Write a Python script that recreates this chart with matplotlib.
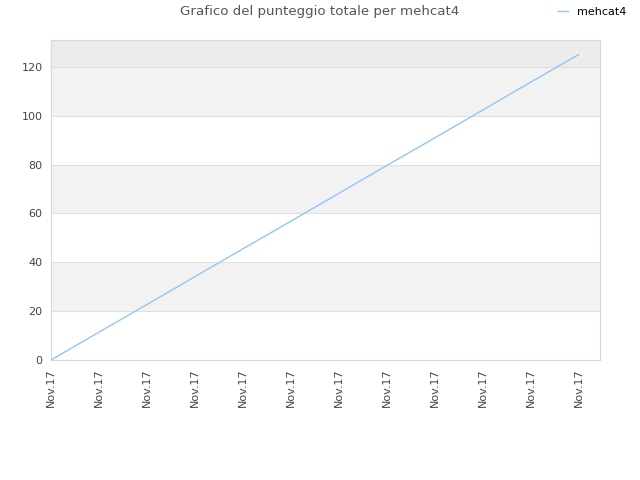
import matplotlib
matplotlib.use("Agg")
import matplotlib.pyplot as plt
import numpy as np

# data
labels = ["Nov.17"] * 12
scores = [0, 11.4, 22.7, 34.1, 45.5, 56.8, 68.2, 79.6, 90.9, 102.3, 113.7, 125]
series_name = "mehcat4"

fig = plt.figure(figsize=(6.4, 4.8), dpi=100)
ax = fig.add_axes([0.0797, 0.25, 0.858, 0.6667])

# alternating horizontal bands
ax.axhspan(20, 40, color="#f2f2f2", zorder=0, lw=0)
ax.axhspan(60, 80, color="#f2f2f2", zorder=0, lw=0)
ax.axhspan(100, 120, color="#f2f2f2", zorder=0, lw=0)
ax.axhspan(120, 140, color="#ececec", zorder=0, lw=0)

x = np.arange(len(scores))
ax.plot(x, scores, color="#92c5f9", linewidth=1.0, label=series_name, zorder=3)

ax.set_xlim(0, 11.45)
ax.set_ylim(0, 131)
ax.set_yticks([0, 20, 40, 60, 80, 100, 120])
ax.set_xticks(x)
ax.set_xticklabels(labels, rotation=90)
ax.yaxis.grid(True, color="#e0e0e0", linewidth=0.8, zorder=1)
ax.set_axisbelow(True)
ax.tick_params(axis="both", length=0, labelsize=8, labelcolor="#444444", pad=6)
for s in ax.spines.values():
    s.set_color("#d8d8d8")
    s.set_linewidth(0.8)

fig.text(0.5, 0.975, "Grafico del punteggio totale per mehcat4", ha="center", va="center",
         fontsize=9.6, color="#555555")
fig.legend(loc="center left", bbox_to_anchor=(0.865, 0.975), frameon=False, fontsize=8,
           handlelength=0.9, handletextpad=0.8, borderaxespad=0)

fig.savefig("out.png", dpi=100)
